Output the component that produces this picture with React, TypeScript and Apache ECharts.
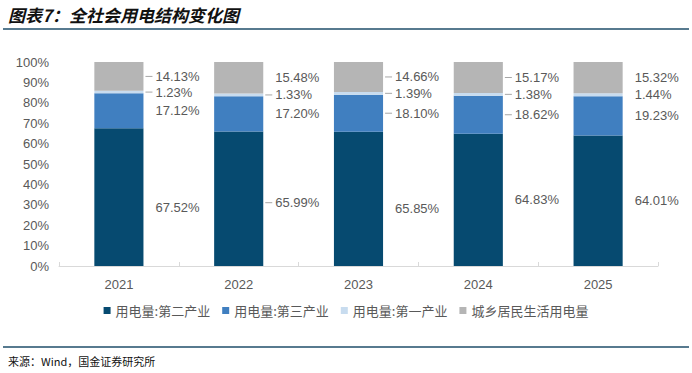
import React, { useEffect, useRef } from "react";
import * as echarts from "echarts";

const years = ["2021", "2022", "2023", "2024", "2025"];
const secondIndustry = [67.52, 65.99, 65.85, 64.83, 64.01];
const thirdIndustry = [17.12, 17.2, 18.1, 18.62, 19.23];
const firstIndustry = [1.23, 1.33, 1.39, 1.38, 1.44];
const residential = [14.13, 15.48, 14.66, 15.17, 15.32];
const seriesNames = ["用电量:第二产业", "用电量:第三产业", "用电量:第一产业", "城乡居民生活用电量"];
const yTicks = [0, 10, 20, 30, 40, 50, 60, 70, 80, 90, 100];

// which data labels carry a short leader line
const leadSecond = [false, true, false, false, false];
const leadThird = [false, false, true, true, false];
const leadFirst = [true, true, true, true, false];
const leadResid = [true, false, true, true, false];
// vertical nudges of the secondary-industry labels (px)
const nudgeSecond = [10, 4, 10, 0, 0];

const colors = ["#064a70", "#407fc0", "#c8dcef", "#b5b5b5"];

export default function App() {
  const ref = useRef<HTMLDivElement>(null);
  useEffect(() => {
    if (!ref.current) return;
    const chart = echarts.init(ref.current, null, { renderer: "svg" });
    const mk = (name: string, vals: number[], leads: boolean[], color: string, nudge?: number[]) => ({
      name,
      type: "bar",
      stack: "total",
      barWidth: "41%",
      itemStyle: { color },
      data: vals.map((v, i) => ({
        value: v,
        label: {
          formatter: leads[i] ? `{ln|}{t|${v.toFixed(2)}%}` : `{s|}{t|${v.toFixed(2)}%}`,
          offset: [0, nudge ? nudge[i] : 0],
        },
      })),
      label: {
        show: true,
        position: "right",
        distance: 2,
        color: "#595959",
        fontSize: 13,
        fontFamily: "Arial, Liberation Sans, sans-serif",
        rich: {
          ln: { width: 7, height: 1, backgroundColor: "#a6a6a6" },
          s: { width: 7, height: 1 },
          t: { color: "#595959", fontSize: 13, padding: [0, 0, 0, 3] },
        },
      },
    });
    chart.setOption({
      animation: false,
      textStyle: { fontFamily: "Arial, Liberation Sans, Noto Sans CJK SC, sans-serif" },
      grid: { left: 59, right: 34, top: 62, bottom: 107 },
      legend: {
        top: 299,
        left: "center",
        icon: "rect",
        itemWidth: 7,
        itemHeight: 7,
        itemGap: 12,
        textStyle: { color: "#595959", fontSize: 13, fontFamily: "Noto Sans CJK SC, sans-serif" },
        data: seriesNames,
      },
      xAxis: {
        type: "category",
        data: years,
        axisLine: { lineStyle: { color: "#d9d9d9" } },
        axisTick: { show: true, inside: true, length: 4, lineStyle: { color: "#d9d9d9" } },
        axisLabel: { color: "#595959", fontSize: 13, margin: 12 },
      },
      yAxis: {
        type: "value",
        min: yTicks[0],
        max: yTicks[yTicks.length - 1],
        interval: 10,
        splitLine: { show: false },
        axisLine: { show: false },
        axisTick: { show: false },
        axisLabel: { color: "#595959", fontSize: 13, margin: 10, formatter: "{value}%" },
      },
      graphic: [
        {
          type: "text",
          left: 8,
          top: 6,
          style: {
            text: "图表7：全社会用电结构变化图",
            fontSize: 17,
            fontWeight: "bold",
            fontStyle: "italic",
            fill: "#111",
            fontFamily: "Noto Sans CJK SC, sans-serif",
          },
        },
        { type: "line", shape: { x1: 3, y1: 29, x2: 689, y2: 29 }, style: { stroke: "#1f4e6a", lineWidth: 1.5 } },
        { type: "line", shape: { x1: 3, y1: 347, x2: 689, y2: 347 }, style: { stroke: "#1f4e6a", lineWidth: 1.5 } },
        {
          type: "text",
          left: 8,
          top: 355,
          style: {
            text: "来源：Wind，国金证券研究所",
            fontSize: 11,
            fill: "#111",
            fontFamily: "Noto Sans CJK SC, sans-serif",
          },
        },
      ],
      series: [
        mk(seriesNames[0], secondIndustry, leadSecond, colors[0], nudgeSecond),
        mk(seriesNames[1], thirdIndustry, leadThird, colors[1]),
        mk(seriesNames[2], firstIndustry, leadFirst, colors[2]),
        mk(seriesNames[3], residential, leadResid, colors[3]),
      ],
    });
    return () => chart.dispose();
  }, []);
  return (
    <div
      ref={ref}
      style={{ position: "fixed", left: 0, top: 0, width: 692, height: 373, background: "#fff" }}
    />
  );
}
